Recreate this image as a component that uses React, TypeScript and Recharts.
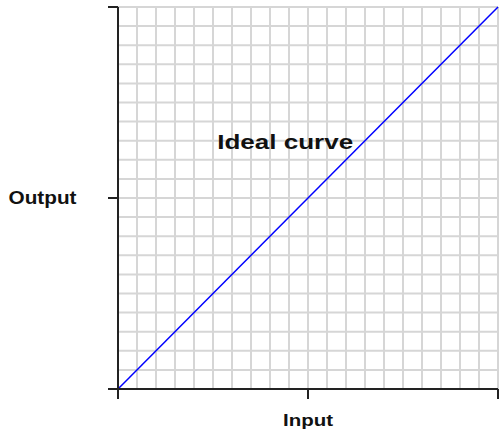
import React from "react";
import { ComposedChart, Line, XAxis, YAxis, CartesianGrid, ReferenceDot } from "recharts";

const curveX = [0, 20];
const curveY = [0, 20];
const axisTicks = [0, 10, 20];
const gridValues = [0, 1, 2, 3, 4, 5, 6, 7, 8, 9, 10, 11, 12, 13, 14, 15, 16, 17, 18, 19, 20];
const xLabel = "Input";
const yLabel = "Output";
const curveLabel = "Ideal curve";
const curveLabelPos = { x: 8.8, y: 12.95 };
const DOMAIN_MAX = 20;

const data = curveX.map((x, i) => ({ x, y: curveY[i] }));

const FONT = "'Liberation Sans', Arial, sans-serif";

const XLabel = (props: any) => {
  const vb = props.viewBox || {};
  const cx = vb.x + vb.width / 2;
  return (
    <text x={cx} y={vb.y + 37} textAnchor="middle" textLength={50} lengthAdjust="spacingAndGlyphs"
      fontFamily={FONT} fontWeight="bold" fontSize={16} fill="#111">{xLabel}</text>
  );
};

const YLabel = (props: any) => {
  const vb = props.viewBox || {};
  const cy = vb.y + vb.height / 2;
  return (
    <text x={42.5} y={cy + 6} textAnchor="middle" textLength={68} lengthAdjust="spacingAndGlyphs"
      fontFamily={FONT} fontWeight="bold" fontSize={17.5} fill="#111">{yLabel}</text>
  );
};

const CurveLabel = (props: any) => {
  const vb = props.viewBox || {};
  const cx = vb.x + (vb.width || 0) / 2;
  const cy = vb.y + (vb.height || 0) / 2;
  return (
    <text x={cx} y={cy + 7} textAnchor="middle" textLength={136} lengthAdjust="spacingAndGlyphs"
      fontFamily={FONT} fontWeight="bold" fontSize={19.5} fill="#111">{curveLabel}</text>
  );
};

const scaleOf = (axis: any) => {
  if (!axis) return null;
  const s = axis.scale;
  if (typeof s === "function") return s;
  if (s && typeof s.map === "function") return (v: number) => s.map(v);
  return null;
};

const hGen = (props: any) => {
  const s = scaleOf(props.yAxis);
  const o = props.offset;
  return gridValues.map((v) => (s ? s(v) : o.top + o.height * (1 - v / DOMAIN_MAX)));
};

const vGen = (props: any) => {
  const s = scaleOf(props.xAxis);
  const o = props.offset;
  return gridValues.map((v) => (s ? s(v) : o.left + o.width * (v / DOMAIN_MAX)));
};

const noLabel = () => "";

export default function App() {
  return (
    <div style={{ position: "absolute", left: 0, top: 0, width: 499, height: 431, background: "#fff" }}>
      <ComposedChart width={499} height={431} data={data} margin={{ top: 7, right: 1, bottom: 0, left: 0 }}>
        <CartesianGrid stroke="#d6d6d6" strokeWidth={2}
          horizontalCoordinatesGenerator={hGen} verticalCoordinatesGenerator={vGen} />
        <XAxis dataKey="x" type="number" domain={[0, DOMAIN_MAX]} ticks={axisTicks} tickFormatter={noLabel} tickSize={10}
          height={42} axisLine={{ stroke: "#222", strokeWidth: 2 }} tickLine={{ stroke: "#222", strokeWidth: 2 }}
          label={<XLabel />} />
        <YAxis type="number" domain={[0, DOMAIN_MAX]} ticks={axisTicks} tickFormatter={noLabel} tickSize={10}
          width={118} axisLine={{ stroke: "#222", strokeWidth: 2 }} tickLine={{ stroke: "#222", strokeWidth: 2 }}
          label={<YLabel />} />
        <Line dataKey="y" stroke="#0000ff" strokeWidth={1.5} dot={false} isAnimationActive={false} />
        <ReferenceDot x={curveLabelPos.x} y={curveLabelPos.y} r={0} fill="none" stroke="none" label={<CurveLabel />} />
      </ComposedChart>
    </div>
  );
}
